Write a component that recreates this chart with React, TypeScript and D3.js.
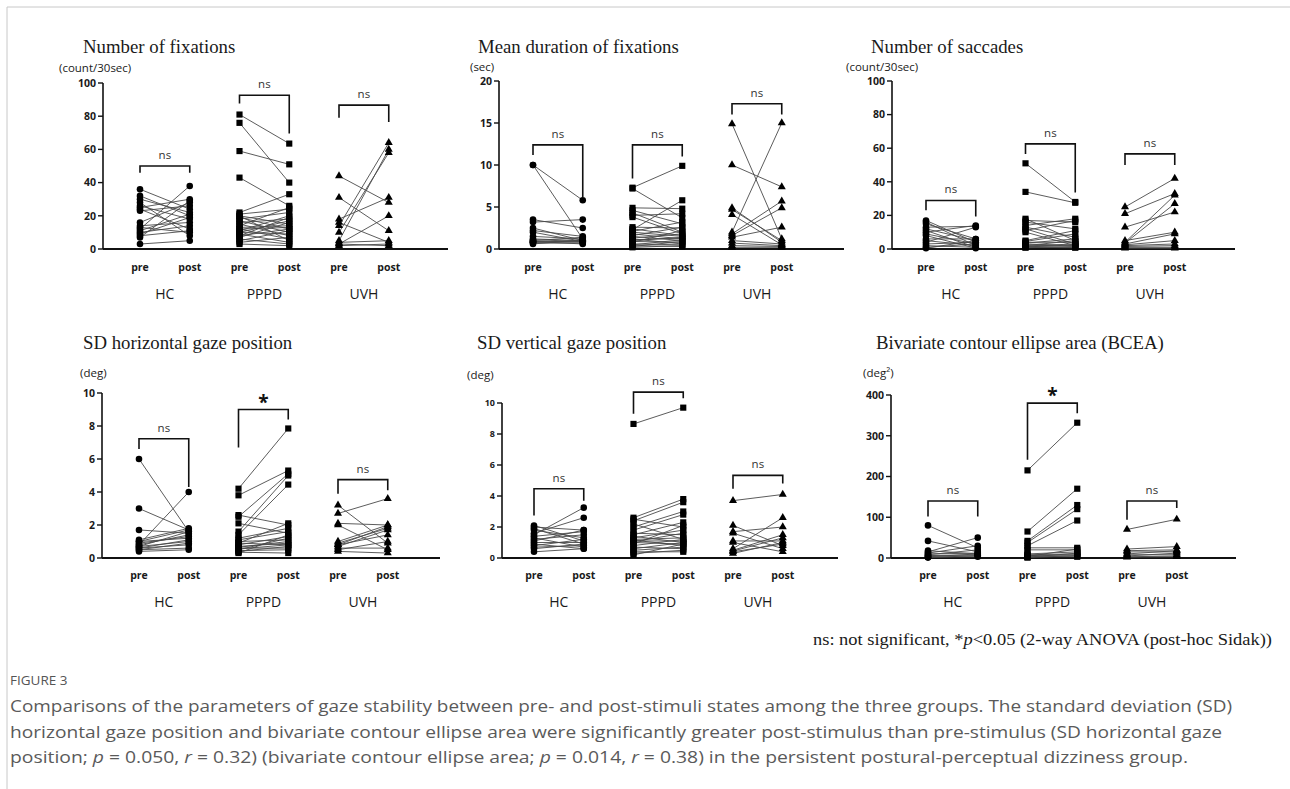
import React from 'react';
import * as d3 from 'd3';

// ---------- data: Number of fixations ----------
const fixHCPre = [36, 32, 30, 28, 25, 24, 23, 16, 14, 13, 12, 11, 9, 8, 7, 3, 10, 26];
const fixHCPost = [24, 20, 22, 8, 30, 12, 26, 28, 16, 10, 38, 21, 19, 11, 29, 5, 14, 18];
const fixPPPDPre = [81, 76, 59, 43, 22, 21, 20, 19, 18, 17, 16, 15, 14, 13, 12, 11, 10, 10, 9, 8, 7, 6, 5, 4, 3, 20, 12, 8];
const fixPPPDPost = [63.5, 40, 51, 26, 33, 24, 15, 12, 22, 10, 18, 8, 25, 14, 6, 20, 9, 17, 4, 12, 16, 3, 11, 7, 2, 5, 13, 19];
const fixUVHPre = [44, 31, 18, 16, 14, 10, 5, 3, 2, 4, 3];
const fixUVHPost = [28, 11, 31, 4, 64, 58, 60, 20, 3, 5, 2];
const fixBrackets: [number, number, number, string][] = [[50, 46, 46, 'ns'], [92.6, 87.6, 69.6, 'ns'], [86.7, 79, 76.5, 'ns']];

// ---------- data: Mean duration of fixations ----------
const durHCPre = [10, 10, 3.5, 3.2, 2.5, 2.2, 2.0, 1.0, 0.9, 0.8, 0.7, 0.6, 1.1, 1.5, 0.8, 1.2, 0.9];
const durHCPost = [5.8, 1.2, 2.5, 3.5, 1.0, 1.5, 0.9, 1.4, 0.8, 1.0, 0.7, 1.1, 0.9, 1.2, 0.9, 1.0, 0.6];
const durPPPDPre = [7.3, 7.2, 2.3, 4.9, 4.6, 4.3, 4.0, 3.8, 2.6, 2.1, 2.0, 1.8, 1.6, 1.5, 1.3, 1.2, 1.0, 0.9, 0.8, 0.6, 0.5, 0.4, 0.3, 0.2, 2.4, 1.1];
const durPPPDPost = [9.9, 3.7, 5.8, 4.8, 3.0, 2.0, 4.2, 1.8, 2.5, 3.2, 1.5, 1.2, 2.6, 1.0, 1.8, 0.6, 1.4, 0.8, 2.2, 0.5, 1.1, 0.3, 0.9, 0.4, 1.6, 1.3];
const durUVHPre = [14.9, 10.0, 4.9, 4.7, 4.1, 2.0, 1.8, 1.6, 1.4, 1.0, 0.7, 0.4, 0.2];
const durUVHPost = [1.2, 7.4, 0.8, 1.0, 0.5, 15.0, 5.7, 4.9, 2.6, 0.6, 0.4, 0.3, 0.2];
const durBrackets: [number, number, number, string][] = [[12.4, 11.2, 6.2, 'ns'], [12.4, 8.4, 11.0, 'ns'], [17.3, 16, 16, 'ns']];

// ---------- data: Number of saccades ----------
const sacHCPre = [17, 16, 15, 13, 12, 11, 10, 9, 8, 6, 5, 4, 3, 2, 1, 0.5];
const sacHCPost = [4, 2, 6, 13.5, 5, 1, 14, 3, 0.5, 6, 2, 13, 4, 1, 3, 5];
const sacPPPDPre = [51, 34, 18, 17, 16, 14, 13, 12, 11, 10, 5, 4.5, 4, 3.5, 3, 2.5, 2, 1.8, 1.5, 1.2, 1, 0.8];
const sacPPPDPost = [28, 27.5, 5, 16, 12, 18, 7, 3, 17, 2, 11, 9, 4, 6, 2, 1.5, 5, 3, 1, 2.5, 0.8, 1.2];
const sacUVHPre = [25, 21, 13, 4, 3.5, 5, 3, 2.5, 2, 1, 0.5, 1.5];
const sacUVHPost = [42, 33, 22, 32, 27, 10, 9, 5, 3, 1, 0.5, 2];
const sacBrackets: [number, number, number, string][] = [[28.9, 23, 19.4, 'ns'], [62.6, 56.6, 33.7, 'ns'], [56.6, 50, 50, 'ns']];

// ---------- data: SD horizontal gaze position ----------
const hozHCPre = [6.0, 3.0, 1.7, 1.1, 1.0, 0.8, 0.9, 0.7, 0.6, 0.5, 0.4, 1.0, 0.8, 0.6, 0.5, 0.7];
const hozHCPost = [1.6, 1.7, 1.5, 1.8, 1.2, 4.0, 1.3, 1.0, 0.8, 0.6, 0.5, 1.7, 1.4, 1.1, 0.9, 1.6];
const hozPPPDPre = [4.2, 3.8, 2.6, 2.5, 2.1, 1.6, 1.4, 1.2, 1.0, 0.9, 0.8, 0.7, 0.65, 0.6, 0.55, 0.5, 0.45, 0.4, 0.35, 0.3, 0.9, 1.1];
const hozPPPDPost = [7.85, 5.3, 2.0, 5.1, 1.5, 5.0, 4.45, 1.8, 1.1, 2.1, 1.3, 0.9, 1.0, 0.6, 0.8, 1.2, 0.5, 0.7, 0.3, 1.4, 0.8, 1.6];
const hozUVHPre = [3.2, 2.7, 2.1, 2.0, 1.0, 0.9, 0.8, 0.7, 0.6, 0.5, 0.4, 0.8];
const hozUVHPost = [0.9, 3.6, 2.0, 0.5, 2.0, 1.8, 1.4, 1.7, 0.6, 1.0, 0.3, 1.9];
const hozBrackets: [number, number, number, string][] = [[7.23, 6.6, 4.3, 'ns'], [9.0, 6.7, 8.4, '*'], [4.75, 3.9, 4.1, 'ns']];

// ---------- data: SD vertical gaze position ----------
const verHCPre = [2.1, 2.0, 1.9, 1.8, 1.6, 1.5, 1.4, 1.3, 1.2, 1.0, 0.9, 0.8, 0.7, 0.6, 0.4, 1.1];
const verHCPost = [1.1, 1.8, 0.9, 1.3, 2.6, 3.25, 1.7, 0.7, 1.5, 1.0, 0.6, 1.2, 0.8, 0.9, 0.6, 1.8];
const verPPPDPre = [8.65, 2.6, 2.5, 2.4, 2.2, 2.0, 1.8, 1.6, 1.5, 1.4, 1.3, 1.2, 1.15, 1.1, 1.05, 1.0, 0.9, 0.8, 0.7, 0.6, 0.5, 0.4, 0.3, 0.2];
const verPPPDPost = [9.7, 3.8, 2.0, 3.6, 1.2, 3.0, 2.8, 1.5, 2.3, 1.0, 1.8, 1.3, 0.8, 1.1, 1.6, 0.9, 2.1, 1.2, 0.6, 1.0, 0.7, 0.4, 0.5, 0.9];
const verUVHPre = [3.7, 2.1, 1.7, 1.6, 1.1, 1.0, 0.6, 0.5, 0.45, 0.4, 0.3];
const verUVHPost = [4.1, 0.8, 2.0, 0.6, 1.1, 0.4, 2.6, 1.5, 1.3, 0.9, 1.0];
const verBrackets: [number, number, number, string][] = [[4.47, 2.75, 3.7, 'ns'], [10.7, 9.3, 10.3, 'ns'], [5.33, 4.47, 4.8, 'ns']];

// ---------- data: BCEA ----------
const bceaHCPre = [80, 42, 18, 15, 12, 10, 8, 6, 5, 3, 2, 1];
const bceaHCPost = [25, 15, 10, 50, 30, 12, 20, 8, 5, 10, 3, 6];
const bceaPPPDPre = [215, 65, 42, 38, 30, 25, 20, 10, 8, 6, 5, 4, 3, 2, 1];
const bceaPPPDPost = [332, 170, 130, 120, 92, 25, 20, 15, 10, 8, 5, 22, 3, 12, 6];
const bceaUVHPre = [70, 22, 18, 15, 10, 8, 5, 3, 2];
const bceaUVHPost = [95, 28, 20, 15, 18, 8, 12, 5, 3];
const bceaBrackets: [number, number, number, string][] = [[140, 102, 102, 'ns'], [380, 241, 355, '*'], [140, 94, 123, 'ns']];

const groups = ['HC', 'PPPD', 'UVH'];
const phases = ['pre', 'post'];

const panels = [
  { title: 'Number of fixations', unit: '(count/30sec)', max: 100, step: 20, pre: [fixHCPre, fixPPPDPre, fixUVHPre], post: [fixHCPost, fixPPPDPost, fixUVHPost], brackets: fixBrackets },
  { title: 'Mean duration of fixations', unit: '(sec)', max: 20, step: 5, pre: [durHCPre, durPPPDPre, durUVHPre], post: [durHCPost, durPPPDPost, durUVHPost], brackets: durBrackets },
  { title: 'Number of saccades', unit: '(count/30sec)', max: 100, step: 20, pre: [sacHCPre, sacPPPDPre, sacUVHPre], post: [sacHCPost, sacPPPDPost, sacUVHPost], brackets: sacBrackets },
  { title: 'SD horizontal  gaze position', unit: '(deg)', max: 10, step: 2, pre: [hozHCPre, hozPPPDPre, hozUVHPre], post: [hozHCPost, hozPPPDPost, hozUVHPost], brackets: hozBrackets },
  { title: 'SD vertical  gaze position', unit: '(deg)', max: 10, step: 2, pre: [verHCPre, verPPPDPre, verUVHPre], post: [verHCPost, verPPPDPost, verUVHPost], brackets: verBrackets },
  { title: 'Bivariate contour ellipse area (BCEA)', unit: '(deg²)', max: 400, step: 100, pre: [bceaHCPre, bceaPPPDPre, bceaUVHPre], post: [bceaHCPost, bceaPPPDPost, bceaUVHPost], brackets: bceaBrackets },
];

// layout (pixel positions only)
const layouts = [
  { axisX: 103, y0: 249, yTop: 83, firstX: 140, titleX: 83, titleY: 53, unitX: 59, unitY: 72, tick: 10.5, axisEnd: 448, labY: 271, grpY: 299 },
  { axisX: 499, y0: 249, yTop: 81, firstX: 533, titleX: 478, titleY: 53, unitX: 470, unitY: 71, tick: 10.5, axisEnd: 844, labY: 271, grpY: 299 },
  { axisX: 892, y0: 249, yTop: 81, firstX: 926, titleX: 871, titleY: 53, unitX: 846, unitY: 71, tick: 10.5, axisEnd: 1235, labY: 271, grpY: 299 },
  { axisX: 102, y0: 558, yTop: 393, firstX: 139, titleX: 83, titleY: 349, unitX: 80, unitY: 377, tick: 10.5, axisEnd: 440, labY: 579, grpY: 607 },
  { axisX: 502, y0: 558, yTop: 403, firstX: 534, titleX: 477, titleY: 349, unitX: 467, unitY: 379, tick: 9, axisEnd: 838, labY: 579, grpY: 607 },
  { axisX: 891, y0: 558, yTop: 395, firstX: 928, titleX: 876, titleY: 349, unitX: 863, unitY: 377, tick: 10.5, axisEnd: 1236, labY: 579, grpY: 607 },
];

const symbolTypes = [d3.symbolCircle, d3.symbolSquare, d3.symbolTriangle];
const symbolSizes = [34, 38, 28];

const SANS = '"Open Sans", "Noto Sans", sans-serif';
const SERIF = '"Liberation Serif", "DejaVu Serif", serif';

function PanelView({ p, L }: { p: typeof panels[number]; L: typeof layouts[number] }) {
  const y = d3.scaleLinear().domain([0, p.max]).range([L.y0, L.yTop]);
  const gx = d3.scaleLinear().domain([0, 1]).range([L.firstX, L.firstX + 99.5]);
  const xPos = (g: number, ph: number) => gx(g + ph * 0.5);
  const ticks = d3.range(0, p.max + p.step / 2, p.step);
  return (
    <g>
      <text x={L.titleX} y={L.titleY} fontFamily={SERIF} fontSize={18.8} fill="#1a1a1a">{p.title}</text>
      <text x={L.unitX} y={L.unitY} fontFamily={SANS} fontSize={11.5} fill="#1a1a1a">{p.unit}</text>
      {/* y axis */}
      <line x1={L.axisX} x2={L.axisX} y1={L.yTop} y2={L.y0} stroke="#111" strokeWidth={1.6} />
      {ticks.map((t) => (
        <g key={t}>
          <line x1={L.axisX - 5} x2={L.axisX} y1={y(t)} y2={y(t)} stroke="#111" strokeWidth={1.4} />
          <text x={L.axisX - 7} y={y(t)} dy="0.36em" textAnchor="end" fontFamily={SANS} fontWeight={700} fontSize={L.tick} fill="#1a1a1a">{t}</text>
        </g>
      ))}
      {/* x axis */}
      <line x1={L.axisX} x2={L.axisEnd} y1={L.y0} y2={L.y0} stroke="#111" strokeWidth={2} />
      {/* lines */}
      {groups.map((g, gi) => (
        <g key={g}>
          {p.pre[gi].map((v, i) => (
            <line key={i} x1={xPos(gi, 0)} y1={y(v)} x2={xPos(gi, 1)} y2={y(p.post[gi][i])} stroke="#4a4a4a" strokeWidth={0.9} />
          ))}
        </g>
      ))}
      {/* markers */}
      {groups.map((g, gi) => {
        const sym = d3.symbol().type(symbolTypes[gi]).size(symbolSizes[gi])() || '';
        return (
          <g key={g}>
            {p.pre[gi].map((v, i) => (
              <path key={'a' + i} d={sym} transform={`translate(${xPos(gi, 0)},${y(v)})`} fill="#000" />
            ))}
            {p.post[gi].map((v, i) => (
              <path key={'b' + i} d={sym} transform={`translate(${xPos(gi, 1)},${y(v)})`} fill="#000" />
            ))}
          </g>
        );
      })}
      {/* brackets */}
      {p.brackets.map((b, gi) => {
        const x1 = xPos(gi, 0);
        const x2 = xPos(gi, 1);
        const top = y(b[0]);
        return (
          <g key={gi}>
            <path d={`M${x1},${y(b[1])}V${top}H${x2}V${y(b[2])}`} fill="none" stroke="#111" strokeWidth={1.6} />
            {b[3] === '*' ? (
              <text x={(x1 + x2) / 2} y={top - 1} textAnchor="middle" fontFamily={SANS} fontWeight={700} fontSize={19} fill="#111">*</text>
            ) : (
              <text x={(x1 + x2) / 2} y={top - 7} textAnchor="middle" fontFamily={SANS} fontSize={11.5} fill="#333">{b[3]}</text>
            )}
          </g>
        );
      })}
      {/* x labels */}
      {groups.map((g, gi) => (
        <g key={g}>
          {phases.map((ph, pi) => (
            <text key={ph} x={xPos(gi, pi)} y={L.labY} textAnchor="middle" fontFamily={SANS} fontWeight={700} fontSize={10.5} fill="#1a1a1a">{ph}</text>
          ))}
          <text x={(xPos(gi, 0) + xPos(gi, 1)) / 2} y={L.grpY} textAnchor="middle" fontFamily={SANS} fontSize={14} fill="#1a1a1a">{g}</text>
        </g>
      ))}
    </g>
  );
}

export default function App() {
  return (
    <svg width={1290} height={789} style={{ position: 'absolute', left: 0, top: 0, background: '#fff' }}>
      <rect x={0} y={0} width={1290} height={789} fill="#fff" />
      <line x1={7} x2={1290} y1={7} y2={7} stroke="#c8c8c8" strokeWidth={1} />
      <line x1={7} x2={7} y1={7} y2={789} stroke="#c8c8c8" strokeWidth={1} />
      {panels.map((p, i) => (
        <PanelView key={i} p={p} L={layouts[i]} />
      ))}
      <text x={813} y={645} textLength={459} lengthAdjust="spacingAndGlyphs" fontFamily={SERIF} fontSize={17} fill="#1a1a1a">
        ns: not significant,  *<tspan fontStyle="italic">p</tspan>{'<0.05 (2-way ANOVA (post-hoc Sidak))'}
      </text>
      <text x={10} y={685} fontFamily={SANS} fontSize={13.5} fill="#555">FIGURE 3</text>
      <g fontFamily={SANS} fontSize={16.8} fill="#5a5a5a">
        <text x={10} y={712} textLength={1222} lengthAdjust="spacingAndGlyphs">Comparisons of the parameters of gaze stability between pre- and post-stimuli states among the three groups. The standard deviation (SD)</text>
        <text x={10} y={738} textLength={1212} lengthAdjust="spacingAndGlyphs">horizontal gaze position and bivariate contour ellipse area were significantly greater post-stimulus than pre-stimulus (SD horizontal gaze</text>
        <text x={10} y={763} textLength={1178} lengthAdjust="spacingAndGlyphs">
          position; <tspan fontStyle="italic">p</tspan> = 0.050, <tspan fontStyle="italic">r</tspan> = 0.32) (bivariate contour ellipse area; <tspan fontStyle="italic">p</tspan> = 0.014, <tspan fontStyle="italic">r</tspan> = 0.38) in the persistent postural-perceptual dizziness group.
        </text>
      </g>
    </svg>
  );
}
